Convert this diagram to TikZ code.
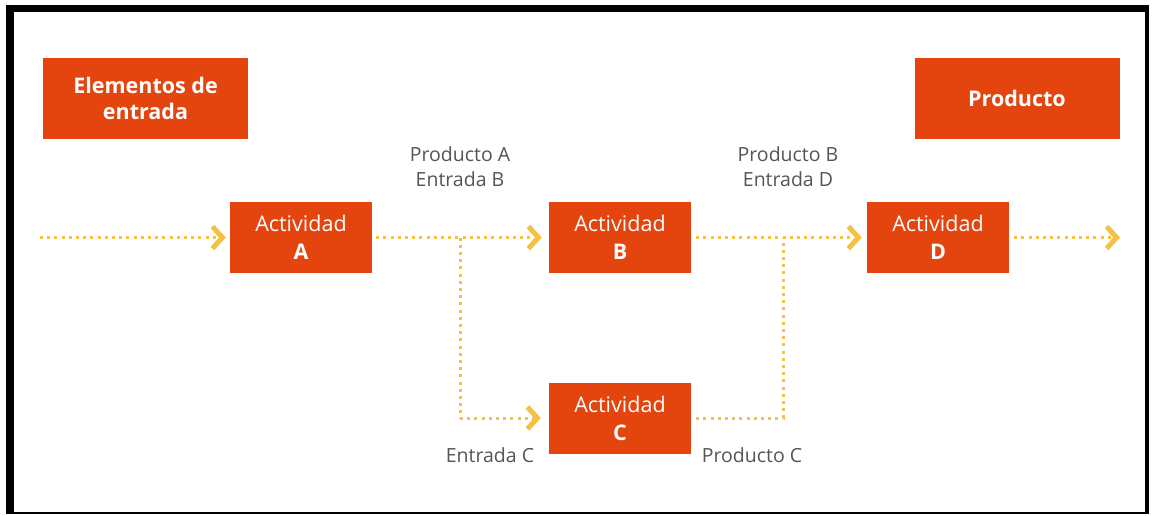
\documentclass[tikz,border=0pt]{standalone}
\usepackage{fontspec}
\setmainfont{Open Sans}
\usetikzlibrary{arrows.meta}
\definecolor{boxorange}{HTML}{E4450F}
\definecolor{flowyellow}{HTML}{F4C045}
\definecolor{labelgray}{HTML}{555555}
\begin{document}
\begin{tikzpicture}[x=1pt,y=-1pt,
  actbox/.style={fill=boxorange,text=white,minimum width=142pt,minimum height=71pt,
    inner sep=0pt,align=center,font=\fontsize{21.5}{28}\selectfont},
  headbox/.style={fill=boxorange,text=white,minimum width=205pt,minimum height=81pt,
    inner sep=0pt,align=center,font=\fontsize{21.5}{26}\selectfont\bfseries},
  flow/.style={draw=flowyellow,line width=3pt,dash pattern=on 3pt off 4.2pt,
    -{Straight Barb[length=10pt,width=22pt,line width=5pt]}},
  link/.style={draw=flowyellow,line width=3pt,dash pattern=on 3pt off 4.2pt},
  note/.style={text=labelgray,align=center,font=\fontsize{19.5}{25}\selectfont}]
% frame
\fill[black] (6,5) rectangle (1149,514);
\fill[white] (14,12) rectangle (1145,512);
\useasboundingbox (0,0) rectangle (1152,515);
% header boxes
\node[headbox] (entrada) at (145.5,98.5) {Elementos de\\entrada};
\node[headbox] (producto) at (1017,98.5) {Producto};
% activities
\node[actbox] (actA) at (301,237.5) {Actividad\\\textbf{A}};
\node[actbox] (actB) at (620,237.5) {Actividad\\\textbf{B}};
\node[actbox] (actC) at (620,418) {Actividad\\\textbf{C}};
\node[actbox] (actD) at (938,237.5) {Actividad\\\textbf{D}};
% junction points
\coordinate (start) at (40,237.5);
\coordinate (finish) at (1120,237.5);
\coordinate (splitA) at (460,237.5);
\coordinate (splitC) at (460,418);
\coordinate (joinC) at (783,418);
\coordinate (joinB) at (783,237.5);
% connectors
\draw[flow] (start) -- ([xshift=-4pt]actA.west);
\draw[flow] ([xshift=4pt]actA.east) -- ([xshift=-7pt]actB.west);
\draw[link] (splitA) -- (splitC);
\draw[flow] (splitC) -- ([xshift=-8pt]actC.west);
\draw[flow] ([xshift=5pt]actB.east) -- ([xshift=-5pt]actD.west);
\draw[link] ([xshift=5pt]actC.east) -- (joinC) -- (joinB);
\draw[flow] ([xshift=5pt]actD.east) -- (finish);
% labels
\node[note] (pab) at (460,167) {Producto A\\Entrada B};
\node[note] (pbd) at (788,167) {Producto B\\Entrada D};
\node[note] (ec) at (490,455) {Entrada C};
\node[note] (pc) at (752,455) {Producto C};
\end{tikzpicture}
\end{document}
